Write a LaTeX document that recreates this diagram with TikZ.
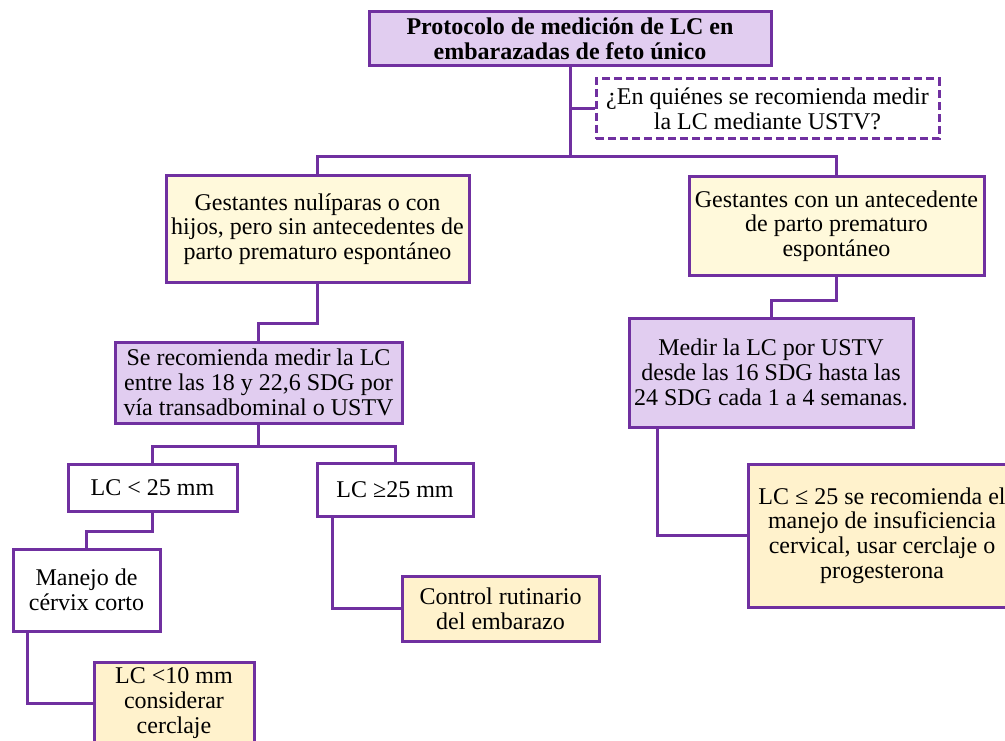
\documentclass[tikz,border=0pt]{standalone}
\usepackage{fontspec}
\setmainfont{Liberation Serif}
\usetikzlibrary{calc}
\definecolor{custom-purple}{RGB}{112, 48, 160}
\definecolor{custom-lilac}{RGB}{225, 205, 240}
\definecolor{custom-cream}{RGB}{255, 249, 219}
\definecolor{custom-peach}{RGB}{255, 242, 204}
\tikzset{
lcbox/.style={draw=custom-purple, line width=3pt, align=center, inner sep=0pt, fill=white, font=\fontsize{24}{24.7}\selectfont},
lcdash/.style={lcbox, dash pattern=on 8pt off 4pt},
lclink/.style={draw=custom-purple, line width=3pt}
}
\begin{document}
\begin{tikzpicture}[x=1pt, y=-1pt]
\useasboundingbox (0,0) rectangle (1005,741);

\node[lcbox, fill=custom-lilac, font=\fontsize{24}{24.7}\selectfont\bfseries, minimum width=402pt, minimum height=54pt] (proto) at (570,39) {Protocolo de medición de LC en\\embarazadas de feto único};
\node[lcdash, minimum width=343pt, minimum height=60pt] (question) at (767.5,109) {¿En quiénes se recomienda medir\\la LC mediante USTV?};

\node[lcbox, fill=custom-cream, minimum width=303pt, minimum height=106pt] (nulip) at (317.5,229) {Gestantes nulíparas o con\\hijos, pero sin antecedentes de\\parto prematuro espontáneo};
\node[lcbox, fill=custom-cream, minimum width=295pt, minimum height=98pt] (antec) at (836.5,226) {Gestantes con un antecedente\\de parto prematuro\\espontáneo};

\node[lcbox, fill=custom-lilac, minimum width=287pt, minimum height=81pt] (medir-lc) at (258.5,382.5) {Se recomienda medir la LC\\entre las 18 y 22,6 SDG por\\vía transadbominal o USTV};
\node[lcbox, fill=custom-lilac, minimum width=284pt, minimum height=109pt] (medir-ustv) at (771,372.5) {Medir la LC por USTV\\desde las 16 SDG hasta las\\24 SDG cada 1 a 4 semanas.};

\node[lcbox, minimum width=169pt, minimum height=47pt] (lc-menor) at (152.5,487.5) {LC < 25 mm};
\node[lcbox, minimum width=156pt, minimum height=53pt] (lc-mayor) at (395,489.5) {LC ≥25 mm};
\node[lcbox, minimum width=147pt, minimum height=82pt] (manejo) at (86.5,590) {Manejo de\\cérvix corto};
\node[lcbox, fill=custom-peach, minimum width=160pt, minimum height=82pt] (cerclaje) at (174,703) {LC <10 mm\\considerar\\cerclaje};
\node[lcbox, fill=custom-peach, minimum width=197pt, minimum height=65pt] (control) at (500.5,608.5) {Control rutinario\\del embarazo};
\node[lcbox, fill=custom-peach, minimum width=268pt, minimum height=143pt] (insuf) at (882,535.5) {LC ≤ 25 se recomienda el\\manejo de insuficiencia\\cervical, usar cerclaje o\\progesterona};

\coordinate (split-top) at (570,157);
\draw[lclink] (proto.south) -- (split-top);
\draw[lclink] (question.west) -- (question.west -| proto.south);
\draw[lclink] (nulip.north) |- (split-top) -| (antec.north);

\draw[lclink] (nulip.south) -- ++(0,40) -| (medir-lc.north);
\draw[lclink] (medir-lc.south) -- ++(0,22) coordinate (split-lc);
\draw[lclink] (lc-menor.north) |- (split-lc) -| (lc-mayor.north);
\draw[lclink] (lc-menor.south) -- ++(0,19) -| (manejo.north);
\draw[lclink] ($(manejo.south west)+(16,0)$) |- (cerclaje.west);
\draw[lclink] ($(lc-mayor.south west)+(17,0)$) |- (control.west);

\draw[lclink] (antec.south) -- ++(0,24) -| (medir-ustv.north);
\draw[lclink] ($(medir-ustv.south west)+(30,0)$) |- (insuf.west);
\end{tikzpicture}
\end{document}
